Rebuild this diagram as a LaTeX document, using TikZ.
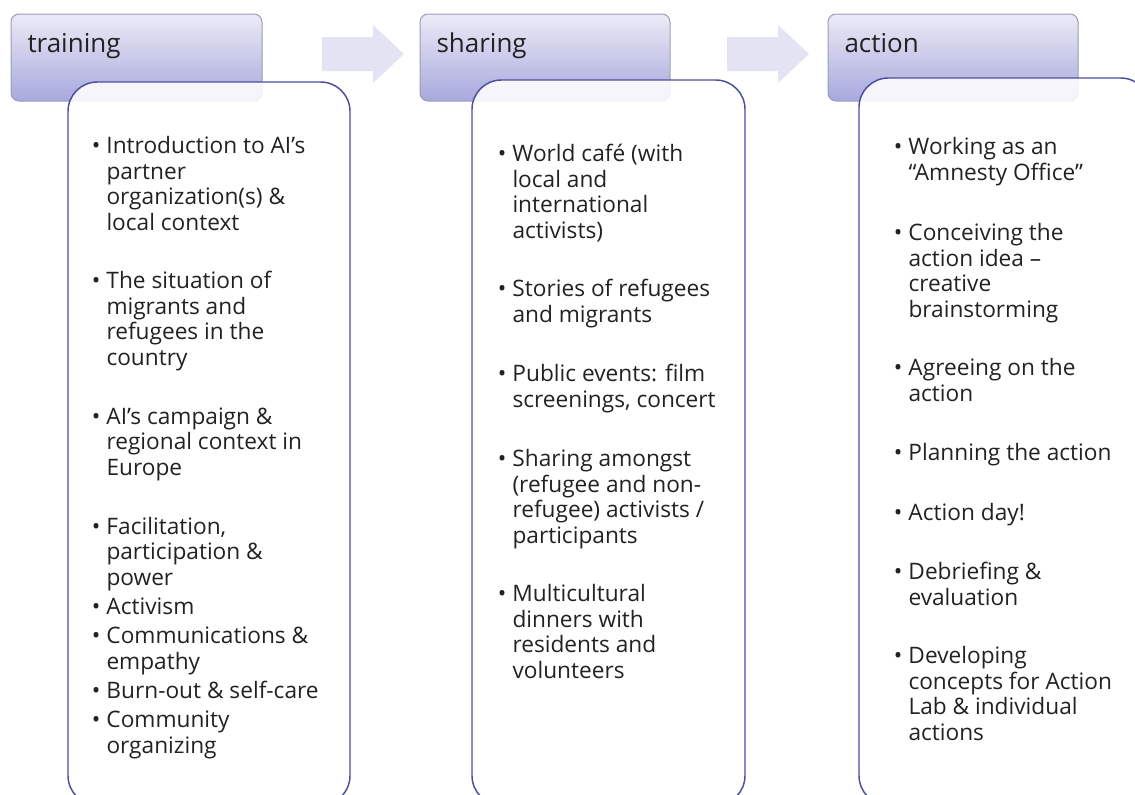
\documentclass[tikz,border=0pt]{standalone}
\usepackage{fontspec}
\setmainfont{Open Sans}

\definecolor{headtop}{HTML}{EBEBF7}
\definecolor{headbot}{HTML}{A8A8DD}
\definecolor{headline}{HTML}{9C9CB8}
\definecolor{boxline}{HTML}{4E4EA0}
\definecolor{arrowfill}{HTML}{E3E3F3}
\definecolor{textgray}{HTML}{222222}

\tikzset{every picture/.style={line width=0.75pt}}
\tikzset{
  headbox/.style={draw=headline, top color=headtop, bottom color=headbot, rounded corners=6pt},
  detailbox/.style={draw=boxline, line width=1.1pt, fill=white, fill opacity=0.88, rounded corners=22pt},
  flowarrow/.style={fill=arrowfill, draw=none},
  headtext/.style={anchor=base west, inner sep=0pt, font=\fontsize{19.5}{24}\selectfont, text=textgray},
  itemtext/.style={anchor=base west, inner sep=0pt, align=left, font=\fontsize{17}{19.1}\selectfont, text=textgray},
}
% bullet hung left of the first line
\newcommand{\bul}{\makebox[0pt][r]{{\fontsize{17}{17}\selectfont\textbullet}\hspace{4.5pt}}}

\begin{document}
\begin{tikzpicture}[x=0.75pt,y=0.75pt,yscale=-1,xscale=1]
\clip (0,0) rectangle (1135,794);

%Shape: Arrow [id:training-sharing]
\draw [flowarrow] (322,37) -- (373,37) -- (373,25) -- (404,54) -- (373,83) -- (373,71) -- (322,71) -- cycle ;
%Shape: Arrow [id:sharing-action]
\draw [flowarrow] (727,37) -- (778,37) -- (778,25) -- (809,54) -- (778,83) -- (778,71) -- (727,71) -- cycle ;

%Shape: Rounded Rect [id:training]
\draw [headbox] (11,14) rectangle (262,101) ;
\draw [detailbox] (68,82) rectangle (350,805) ;
%Shape: Rounded Rect [id:sharing]
\draw [headbox] (420,14) rectangle (670,101) ;
\draw [detailbox] (472,80) rectangle (745,805) ;
%Shape: Rounded Rect [id:action]
\draw [headbox] (828,14) rectangle (1078,101) ;
\draw [detailbox] (859,78) rectangle (1150,805) ;

% Text Node
\node [headtext] (trainHead) at (27,52) {training};
\node [headtext] (shareHead) at (436,52) {sharing};
\node [headtext] (actHead) at (844,52) {action};

% Text Node (anchored at the baseline of the last line)
\node [itemtext] (train1) at (106,230) {\bul Introduction to AI’s\\partner\\organization(s) \&\\local context};
\node [itemtext] (train2) at (106,365) {\bul The situation of\\migrants and\\refugees in the\\country};
\node [itemtext] (train3) at (106,475) {\bul AI’s campaign \&\\regional context in\\Europe};
\node [itemtext] (train4) at (106,585) {\bul Facilitation,\\participation \&\\power};
\node [itemtext] (train5) at (106,614) {\bul Activism};
\node [itemtext] (train6) at (106,669) {\bul Communications \&\\empathy};
\node [itemtext] (train7) at (106,698) {\bul Burn-out \& self-care};
\node [itemtext] (train8) at (106,753) {\bul Community\\organizing};

% Text Node
\node [itemtext] (share1) at (512,238) {\bul World café (with\\local and\\international\\activists)};
\node [itemtext] (share2) at (512,322) {\bul Stories of refugees\\and migrants};
\node [itemtext] (share3) at (512,407) {\bul Public events: film\\screenings, concert};
\node [itemtext] (share4) at (512,543) {\bul Sharing amongst\\(refugee and non-\\refugee) activists /\\participants};
\node [itemtext] (share5) at (512,678) {\bul Multicultural\\dinners with\\residents and\\volunteers};

% Text Node
\node [itemtext] (act1) at (908,180) {\bul Working as an\\“Amnesty Office”};
\node [itemtext] (act2) at (908,317) {\bul Conceiving the\\action idea –\\creative\\brainstorming};
\node [itemtext] (act3) at (908,401) {\bul Agreeing on the\\action};
\node [itemtext] (act4) at (908,460) {\bul Planning the action};
\node [itemtext] (act5) at (908,520) {\bul Action day!};
\node [itemtext] (act6) at (908,605) {\bul Debriefing \&\\evaluation};
\node [itemtext] (act7) at (908,740) {\bul Developing\\concepts for Action\\Lab \& individual\\actions};

\end{tikzpicture}
\end{document}
